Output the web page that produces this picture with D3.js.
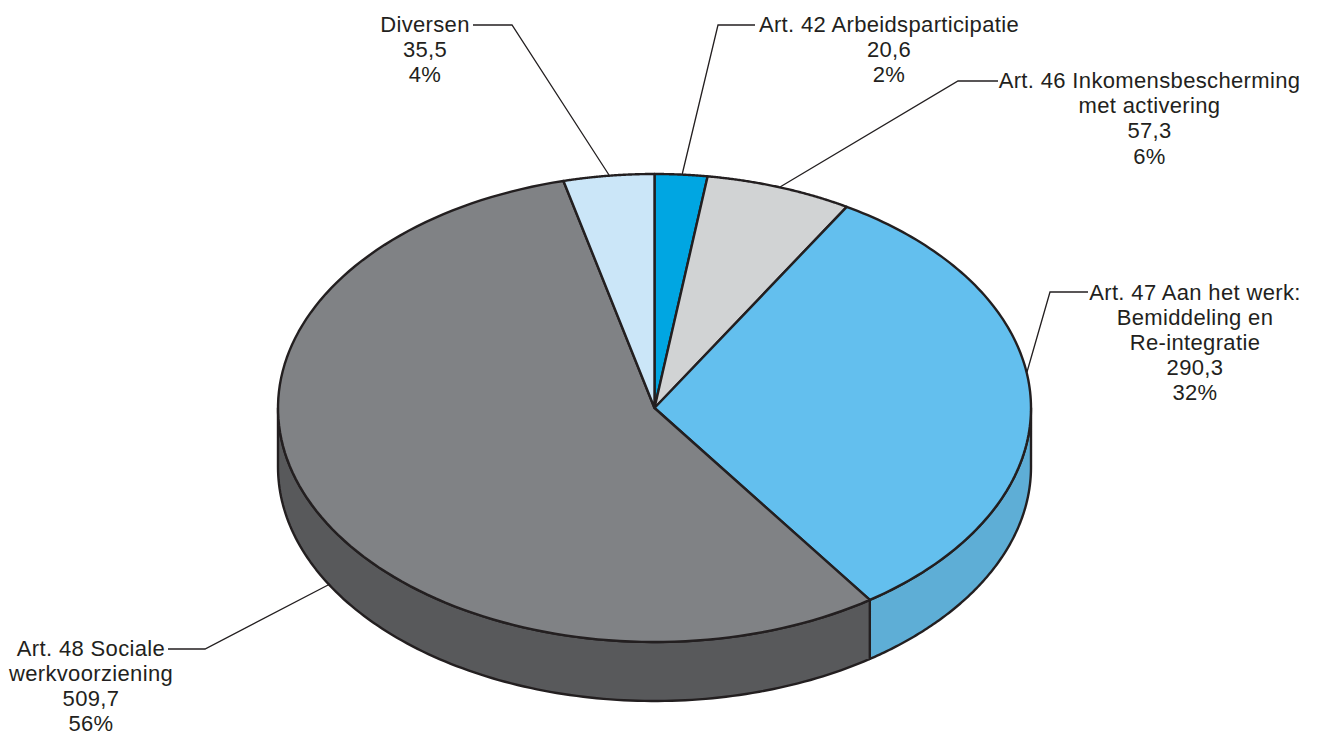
<!DOCTYPE html>
<html><head><meta charset="utf-8">
<script src="https://cdnjs.cloudflare.com/ajax/libs/d3/7.8.5/d3.min.js"></script>
<style>html,body{margin:0;padding:0;background:#fff}svg{display:block}text{font-family:"Liberation Sans",Arial,sans-serif;font-size:22px;letter-spacing:0.35px;fill:#231f20}</style>
</head><body><svg id="c" width="1318" height="736"></svg>
<script>
const categories=["Art. 42 Arbeidsparticipatie","Art. 46 Inkomensbescherming met activering","Art. 47 Aan het werk: Bemiddeling en Re-integratie","Art. 48 Sociale werkvoorziening","Diversen"];
const values=[20.6,57.3,290.3,509.7,35.5];
const valueLabels=["20,6","57,3","290,3","509,7","35,5"];
const percentLabels=["2%","6%","32%","56%","4%"];
const labelLines=[["Art. 42 Arbeidsparticipatie"],["Art. 46 Inkomensbescherming","met activering"],["Art. 47 Aan het werk:","Bemiddeling en","Re-integratie"],["Art. 48 Sociale","werkvoorziening"],["Diversen"]];
const topColors=["#00a6e2","#d1d3d4","#63bfee","#808285","#cbe6f8"];
const sideColors=["#0085b5","#a7a9ac","#5eaed6","#58595b","#a3b8c6"];
const labelX=[889,1149.5,1195,91,425];
const labelY=[32,88,299.5,655.5,32];
const leaders=[[[755,25],[718,25],[682,175]],[[998,81],[958,81],[780,187]],[[1088,292],[1050,292],[1027,372]],[[168,649],[205,649],[330,584]],[[473,25],[512,25],[609,175]]];

const cx=654.5,cy=408,rx=376.5,ry=234,depth=59;
const svg=d3.select("#c");
const pie=d3.pie().sort(null).value(d=>d)(values);
const px=a=>cx+rx*Math.sin(a), py=(a,d=0)=>cy-ry*Math.cos(a)+d;
const line=d3.line().curve(d3.curveLinear);
const sample=(a,b)=>d3.range(0,121).map(i=>a+(b-a)*i/120);
const stroke="#231f20";

pie.forEach((p,i)=>{
  const a=Math.max(p.startAngle,Math.PI/2), b=Math.min(p.endAngle,Math.PI*1.5);
  if(b<=a) return;
  const s=sample(a,b);
  const pts=s.map(t=>[px(t),py(t)]).concat(s.slice().reverse().map(t=>[px(t),py(t,depth)]));
  svg.append("path").attr("d",line(pts)+"Z").attr("fill",sideColors[i]).attr("stroke",stroke).attr("stroke-width",2.4).attr("stroke-linejoin","round");
});
pie.forEach((p,i)=>{
  const s=sample(p.startAngle,p.endAngle);
  const pts=[[cx,cy]].concat(s.map(t=>[px(t),py(t)]));
  svg.append("path").attr("d",line(pts)+"Z").attr("fill",topColors[i]).attr("stroke",stroke).attr("stroke-width",2.4).attr("stroke-linejoin","round");
});
leaders.forEach(l=>{
  svg.append("path").attr("d",line(l)).attr("fill","none").attr("stroke",stroke).attr("stroke-width",1.3);
});
labelLines.forEach((ls,i)=>{
  const all=[...ls,valueLabels[i],percentLabels[i]];
  const t=svg.append("text").attr("text-anchor","middle");
  all.forEach((s,j)=>t.append("tspan").attr("x",labelX[i]).attr("y",labelY[i]+j*25.2).text(s));
});
</script></body></html>
